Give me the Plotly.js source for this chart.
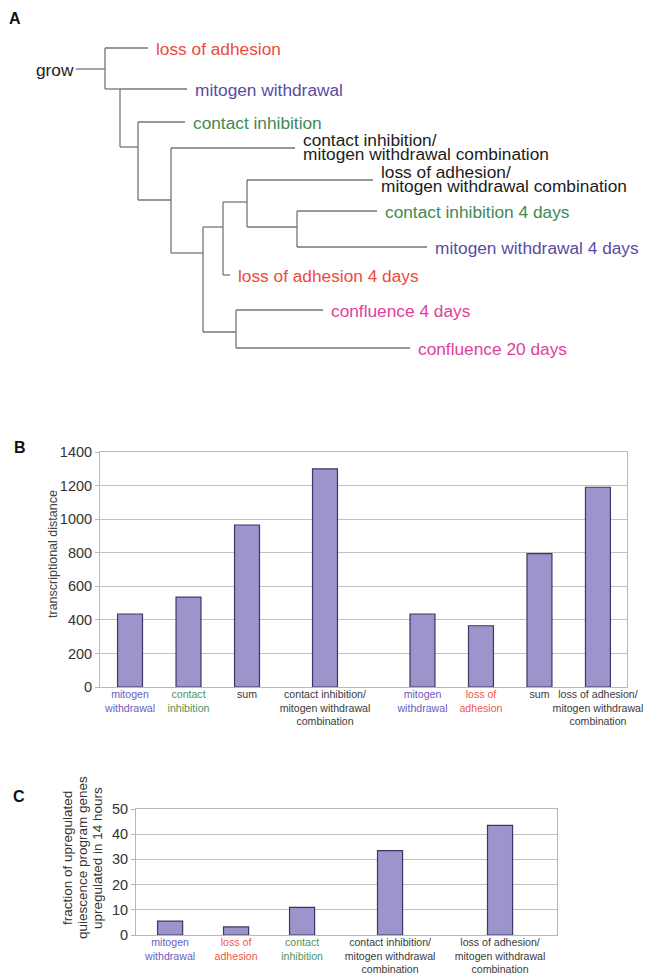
<!DOCTYPE html>
<html>
<head>
<meta charset="utf-8">
<script src="https://cdn.plot.ly/plotly-3.0.1.min.js"></script>
<style>html,body{margin:0;padding:0;background:#fff;}#chart{width:655px;height:978px;}</style>
</head>
<body>
<div id="chart"></div>
<script>
// ---------- Panel A: dendrogram data ----------
const rootLabel = 'grow';
const rootStemDepth = -2.9;
const nodeParent = [-1, 0, 1, 2, 3, 4, 5, 6, 4];
const nodeDepth  = [0, 1.5, 3.3, 6.6, 9.8, 11.8, 14.2, 19.2, 13.1];
const nodeRow    = [2.1, 4.1, 9.9, 15.2, 20.5, 17.9, 15.4, 17.9, 28.4];
const leafNames  = ['loss of adhesion', 'mitogen withdrawal', 'contact inhibition',
  'contact inhibition/<br>mitogen withdrawal combination',
  'loss of adhesion/<br>mitogen withdrawal combination',
  'contact inhibition 4 days', 'mitogen withdrawal 4 days', 'loss of adhesion 4 days',
  'confluence 4 days', 'confluence 20 days'];
const leafGroup  = ['loa', 'mw', 'ci', 'combo', 'combo', 'ci', 'mw', 'loa', 'conf', 'conf'];
const leafParent = [0, 1, 2, 3, 6, 7, 7, 5, 8, 8];
const leafDepth  = [4.3, 8.2, 8.0, 19.0, 26.8, 27.2, 32.2, 12.5, 21.8, 30.5];
const leafRow    = [0, 4.1, 7.4, 10.0, 13.2, 16.3, 19.9, 22.7, 26.2, 30.0];

// ---------- Panel B data ----------
const bLabels = ['mitogen<br>withdrawal', 'contact<br>inhibition', 'sum',
  'contact inhibition/<br>mitogen withdrawal<br>combination',
  'mitogen<br>withdrawal', 'loss of<br>adhesion', 'sum',
  'loss of adhesion/<br>mitogen withdrawal<br>combination'];
const bGroup  = ['mw', 'ci', 'other', 'other', 'mw', 'loa', 'other', 'other'];
const bValues = [435, 535, 965, 1300, 435, 365, 795, 1190];
const bYTitle = 'transcriptional distance';

// ---------- Panel C data ----------
const cLabels = ['mitogen<br>withdrawal', 'loss of<br>adhesion', 'contact<br>inhibition',
  'contact inhibition/<br>mitogen withdrawal<br>combination',
  'loss of adhesion/<br>mitogen withdrawal<br>combination'];
const cGroup  = ['mw', 'loa', 'ci', 'other', 'other'];
const cValues = [5.5, 3.2, 11, 33.5, 43.5];
const cYTitle = ['fraction of upregulated', 'quiescence program genes', 'upregulated in 14 hours'];

// ---------- layout / styles ----------
const W = 655, H = 978;
const FONT = 'Liberation Sans, Arial, Helvetica, sans-serif';
const palette = {loa: '#ee4a3c', mw: '#5a4aa8', ci: '#3f8a55', combo: '#1c1c1c', conf: '#e0409c', other: '#3a3a3a'};
const tickPalette = {loa: '#f0564a', mw: '#6a5cc0', ci: '#4c9460', other: '#3a3a3a'};
const barFill = '#9b95cb', barLine = '#3c3766';
const gridCol = '#c2c2c2', frameCol = '#b8b8b8';
const px = x => x / W, py = y => 1 - y / H;
// category slot layout (spacing between bars, in sub-slots)
const bSlots = [0, 3, 6, 10, 15, 18, 21, 24];
const cSlots = [0, 3, 6, 10, 15];

function colorLabel(txt, col) {
  return txt.split('<br>').map(s => '<span style="color:' + col + '">' + s + '</span>').join('<br>');
}
function slotted(prefix, values, slots) {
  const keys = values.map((_, i) => prefix + i);
  const xs = [], ys = [];
  for (let s = 0; s <= slots[slots.length - 1]; s++) {
    const j = slots.indexOf(s);
    if (j >= 0) { xs.push(keys[j]); ys.push(values[j]); }
    else { xs.push(prefix + 'sp' + s); ys.push(null); }
  }
  return {keys, xs, ys};
}

// ---------- build dendrogram segments ----------
const lx = [], ly = [];
function seg(x0, y0, x1, y1) { lx.push(x0, x1, null); ly.push(y0, y1, null); }
seg(rootStemDepth, nodeRow[0], nodeDepth[0], nodeRow[0]);
for (let i = 0; i < nodeDepth.length; i++) {
  const rows = [];
  nodeParent.forEach((p, j) => { if (p === i) rows.push(nodeRow[j]); });
  leafParent.forEach((p, j) => { if (p === i) rows.push(leafRow[j]); });
  seg(nodeDepth[i], Math.min(...rows), nodeDepth[i], Math.max(...rows));
  if (nodeParent[i] >= 0) seg(nodeDepth[nodeParent[i]], nodeRow[i], nodeDepth[i], nodeRow[i]);
}
leafParent.forEach((p, j) => seg(nodeDepth[p], leafRow[j], leafDepth[j], leafRow[j]));

const annotations = [];
leafNames.forEach((name, j) => {
  const lines = name.split('<br>');
  const shifts = lines.length === 1 ? [-1] : [8.5, -5.5];
  lines.forEach((t, k) => annotations.push({
    xref: 'x3', yref: 'y3', x: leafDepth[j], y: leafRow[j], text: t,
    xanchor: 'left', yanchor: 'middle', xshift: 6, yshift: shifts[k], showarrow: false,
    font: {family: FONT, size: 17.3, color: palette[leafGroup[j]]}
  }));
});
annotations.push({xref: 'x3', yref: 'y3', x: rootStemDepth, y: nodeRow[0], text: rootLabel,
  xanchor: 'right', yanchor: 'middle', xshift: 0, yshift: -1, showarrow: false,
  font: {family: FONT, size: 17.3, color: '#222'}});

// panel letters
[['A', 15, 18], ['B', 20, 447], ['C', 19, 796]].forEach(([t, x, y]) => annotations.push({
  xref: 'paper', yref: 'paper', x: px(x), y: py(y), text: '<b>' + t + '</b>', showarrow: false,
  xanchor: 'center', yanchor: 'middle', font: {family: FONT, size: 16, color: '#111'}
}));
// axis titles
annotations.push({xref: 'paper', yref: 'paper', x: px(53), y: py(554), text: bYTitle, textangle: -90,
  showarrow: false, xanchor: 'center', yanchor: 'middle', font: {family: FONT, size: 12.5, color: '#444'}});
cYTitle.forEach((t, k) => annotations.push({xref: 'paper', yref: 'paper', x: px(67 + 15 * k), y: py(858),
  text: t, textangle: -90, showarrow: false, xanchor: 'center', yanchor: 'middle',
  font: {family: FONT, size: 13.5, color: '#333'}}));

const B = slotted('b', bValues, bSlots);
const C = slotted('c', cValues, cSlots);
const bTickText = bLabels.map((l, i) => colorLabel(l, tickPalette[bGroup[i]]));
const cTickText = cLabels.map((l, i) => colorLabel(l, tickPalette[cGroup[i]]));

const traces = [
  {type: 'scatter', mode: 'lines', x: lx, y: ly, xaxis: 'x3', yaxis: 'y3',
   line: {color: '#767676', width: 1.3}, hoverinfo: 'skip', showlegend: false},
  {type: 'bar', x: B.xs, y: B.ys, xaxis: 'x', yaxis: 'y', width: 1.28,
   marker: {color: barFill, line: {color: barLine, width: 1.2}}, showlegend: false},
  {type: 'bar', x: C.xs, y: C.ys, xaxis: 'x2', yaxis: 'y2', width: 1.14,
   marker: {color: barFill, line: {color: barLine, width: 1.2}}, showlegend: false}
];

const yCommon = {showgrid: true, gridcolor: gridCol, gridwidth: 1, showline: true, mirror: true,
  linecolor: frameCol, linewidth: 1, ticks: 'outside', ticklen: 4, tickcolor: frameCol,
  zeroline: false, fixedrange: true};
const xCommon = {type: 'category', showline: true, mirror: true, linecolor: frameCol, linewidth: 1,
  ticks: '', showgrid: false, fixedrange: true, tickangle: 0, ticklabelstandoff: -3,
  tickfont: {family: FONT, size: 10.6, color: '#3a3a3a'}};

const layout = {
  width: W, height: H, margin: {l: 0, r: 0, t: 0, b: 0}, paper_bgcolor: '#fff', plot_bgcolor: '#fff',
  showlegend: false, font: {family: FONT},
  xaxis: Object.assign({}, xCommon, {domain: [px(100), px(627)], anchor: 'y',
    categoryorder: 'array', categoryarray: B.xs, range: [-1.54, 25.49],
    tickvals: B.keys, ticktext: bTickText}),
  yaxis: Object.assign({}, yCommon, {domain: [py(687), py(452)], anchor: 'x', range: [0, 1400], dtick: 200,
    tickfont: {family: FONT, size: 14.5, color: '#333'}}),
  xaxis2: Object.assign({}, xCommon, {domain: [px(136), px(557)], anchor: 'y2',
    categoryorder: 'array', categoryarray: C.xs, range: [-1.55, 17.59],
    tickvals: C.keys, ticktext: cTickText}),
  yaxis2: Object.assign({}, yCommon, {domain: [py(935), py(809)], anchor: 'x2', range: [0, 50], dtick: 10,
    tickfont: {family: FONT, size: 14.5, color: '#333'}}),
  xaxis3: {domain: [0, 1], anchor: 'y3', range: [-10.5, 55], visible: false, fixedrange: true},
  yaxis3: {domain: [py(400), 1], anchor: 'x3', range: [35.2, -4.8], visible: false, fixedrange: true},
  annotations: annotations
};

Plotly.newPlot('chart', traces, layout, {displayModeBar: false, staticPlot: true});
</script>
</body>
</html>
